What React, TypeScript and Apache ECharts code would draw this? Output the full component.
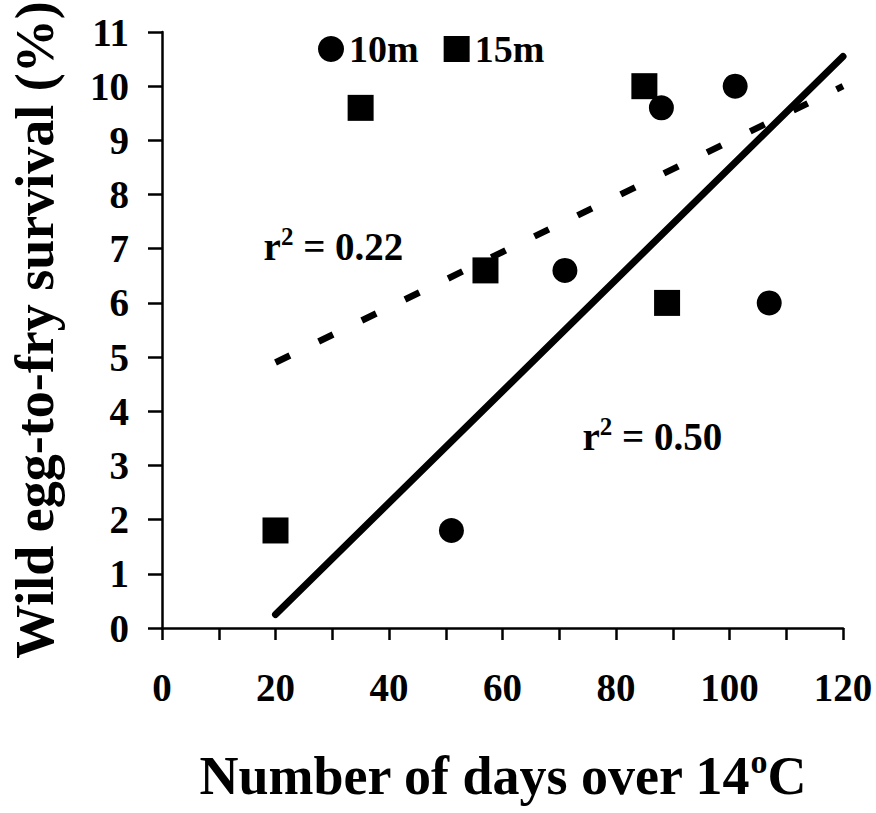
import React, { useEffect, useRef } from "react";
import * as echarts from "echarts";

const FONT = '"Liberation Serif", "Times New Roman", serif';

// 10m depth: [days over 14°C, survival %]
const series10m: number[][] = [
  [51, 1.8],
  [71, 6.6],
  [88, 9.6],
  [101, 10.0],
  [107, 6.0],
];
// 15m depth
const series15m: number[][] = [
  [20, 1.8],
  [35, 9.6],
  [57, 6.6],
  [85, 10.0],
  [89, 6.0],
];
// regression lines (endpoints)
const trend10m: number[][] = [
  [20, 0.25],
  [120, 10.55],
];
const trend15m: number[][] = [
  [20, 4.9],
  [120, 10.0],
];
// r² annotations: [x, y, value]
const annotations: [number, number, string][] = [
  [17.9, 7.04, "0.22"],
  [74.1, 3.53, "0.50"],
];
const legendNames = ["10m", "15m"];
const xTitle = "Number of days over 14";
const yTitle = "Wild egg-to-fry survival (%)";

export default function App() {
  const ref = useRef<HTMLDivElement>(null);
  useEffect(() => {
    if (!ref.current) return;
    const chart = echarts.init(ref.current, null, { renderer: "svg" });
    chart.setOption({
      animation: false,
      backgroundColor: "#fff",
      textStyle: { fontFamily: FONT, fontWeight: "bold", color: "#000" },
      grid: { left: 156, right: 33, top: 32, bottom: 176, containLabel: false },
      legend: {
        data: legendNames,
        left: 313,
        top: 25,
        itemWidth: 26,
        itemHeight: 26,
        itemGap: 25,
        itemStyle: { opacity: 1 },
        textStyle: {
          fontFamily: FONT,
          fontWeight: "bold",
          fontSize: 38,
          color: "#000",
        },
      },
      xAxis: {
        type: "value",
        min: 0,
        max: 120,
        interval: 10,
        splitLine: { show: false },
        axisLine: { onZero: false, lineStyle: { color: "#000", width: 2.5 } },
        axisTick: { length: 12, lineStyle: { color: "#000", width: 2.5 } },
        axisLabel: {
          margin: 40,
          fontFamily: FONT,
          fontWeight: "bold",
          fontSize: 39,
          color: "#000",
          formatter: (v: number) => (v % 20 === 0 ? String(v) : ""),
        },
        name: `{a|${xTitle}}{s|o}{a|C}`,
        nameLocation: "middle",
        nameGap: 118,
        nameTextStyle: {
          rich: {
            a: { fontFamily: FONT, fontWeight: "bold", fontSize: 54, color: "#000", lineHeight: 60 },
            s: {
              fontFamily: FONT,
              fontWeight: "bold",
              fontSize: 34,
              color: "#000",
              lineHeight: 30,
              padding: [0, 0, 30, 0],
            },
          },
        },
      },
      yAxis: {
        type: "value",
        min: 0,
        max: 11,
        interval: 1,
        splitLine: { show: false },
        axisLine: { onZero: false, lineStyle: { color: "#000", width: 2.5 } },
        axisTick: { length: 14, lineStyle: { color: "#000", width: 2.5 } },
        axisLabel: {
          margin: 33,
          fontFamily: FONT,
          fontWeight: "bold",
          fontSize: 39,
          color: "#000",
        },
        name: yTitle,
        nameLocation: "middle",
        nameRotate: 90,
        nameGap: 100,
        nameTextStyle: {
          fontFamily: FONT,
          fontWeight: "bold",
          fontSize: 54,
          color: "#000",
        },
      },
      series: [
        {
          name: "trend10m",
          type: "line",
          data: trend10m,
          symbol: "none",
          lineStyle: { color: "#000", width: 7, cap: "round", opacity: 1 },
          z: 1,
        },
        {
          name: "trend15m",
          type: "line",
          data: trend15m,
          symbol: "none",
          lineStyle: { color: "#000", width: 6.5, type: [16, 32], opacity: 1 },
          z: 1,
        },
        {
          name: "15m",
          type: "scatter",
          data: series15m,
          symbol: "rect",
          symbolSize: 26,
          itemStyle: { color: "#000", opacity: 1 },
          z: 3,
        },
        {
          name: "10m",
          type: "scatter",
          data: series10m,
          symbol: "circle",
          symbolSize: 25,
          itemStyle: { color: "#000", opacity: 1 },
          z: 4,
        },
        {
          name: "annotations",
          type: "scatter",
          data: annotations.map((a) => ({ value: [a[0], a[1]], txt: a[2] })),
          symbolSize: 0,
          silent: true,
          itemStyle: { opacity: 1 },
          z: 5,
          label: {
            show: true,
            position: "right",
            distance: 0,
            formatter: (p: any) => `{r|r}{s|2}{r| = ${p.data.txt}}`,
            rich: {
              r: { fontFamily: FONT, fontWeight: "bold", fontSize: 39, color: "#000", lineHeight: 44 },
              s: {
                fontFamily: FONT,
                fontWeight: "bold",
                fontSize: 25,
                color: "#000",
                lineHeight: 24,
                padding: [0, 0, 20, 0],
              },
            },
          },
        },
      ],
    });
    return () => chart.dispose();
  }, []);
  return (
    <div
      ref={ref}
      style={{ position: "fixed", left: 0, top: 0, width: 876, height: 813, background: "#fff" }}
    />
  );
}
